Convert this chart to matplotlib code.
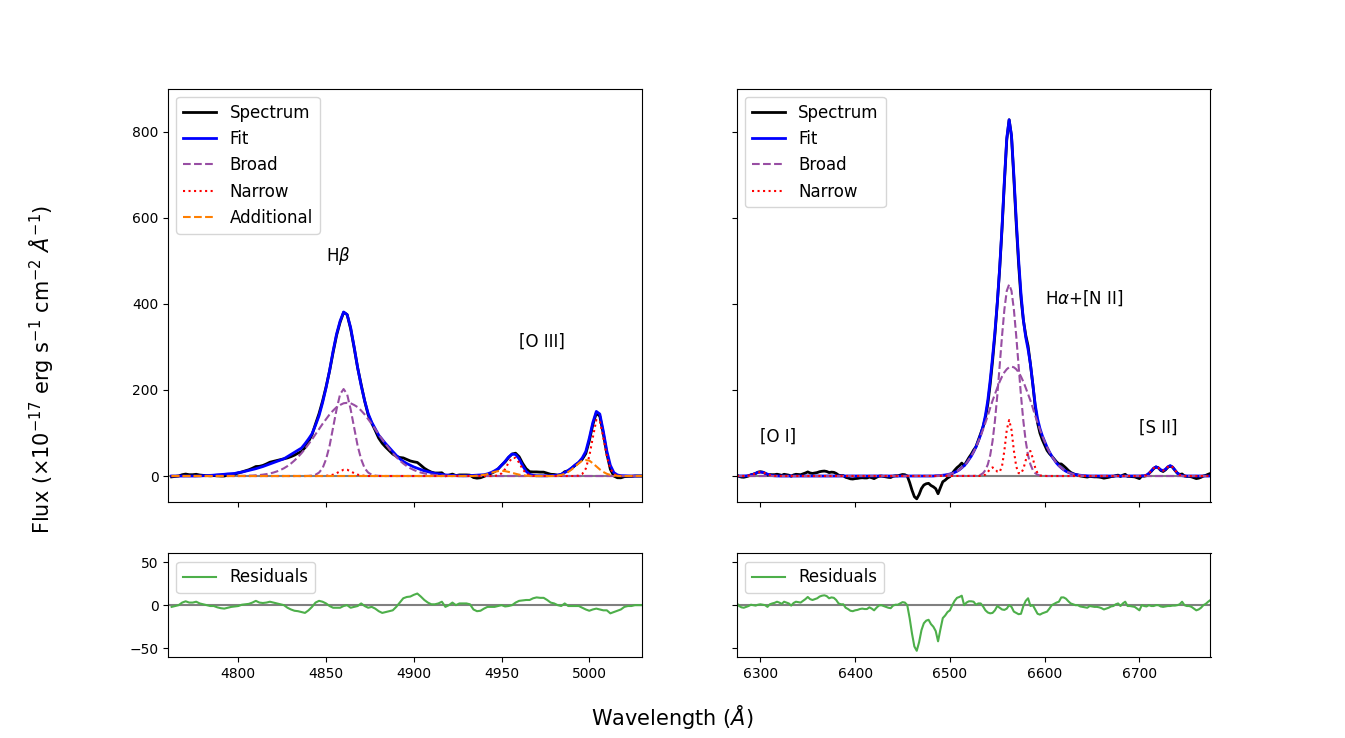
import numpy as np
import matplotlib
matplotlib.use('Agg')
import matplotlib.pyplot as plt

# ---- H-beta + [O III] window (2 A sampling) ----
wave_hb = np.arange(4762, 5031, 2)

fit_hb = [
    0, 0, 0, 0, 0, 0, 0, 0, 0.3, 0.5,
    1, 1.5, 2, 3, 3.5, 4, 5, 5.5, 6, 8,
    9, 11, 13, 15, 17, 19.5, 22, 25, 28, 31,
    34, 37, 40, 45, 50, 55, 60, 65, 75, 86,
    98, 118, 140, 170, 205, 245, 290, 330, 360, 381,
    375, 345, 300, 252, 210, 175, 145, 125, 110, 95,
    85, 75, 66, 57, 48, 40, 34, 29, 25, 21,
    18, 15, 12, 10, 8, 6, 5, 3.5, 2.5, 2,
    1.5, 1, 0.5, 0.5, 0.5, 1, 1.5, 2, 2.5, 3,
    5, 8, 12, 17, 25, 34, 44, 51, 50, 40,
    24, 11, 4, 1.5, 0.5, 0.5, 0.5, 0.5, 1, 1.5,
    2, 4, 8, 13, 19, 26, 32, 42, 57, 88,
    124, 150, 144, 104, 58, 25, 8, 2.5, 0.8, 0.5,
    0, 0, 0, 0, 0,
]

resid_hb = [
    -2, -1, 0, 3, 4.5, 3, 3, 4, 2, 1,
    0, -1, -1, -2.5, -3.5, -4, -3, -2, -1.5, -1,
    0.5, 1, 1.5, 3, 5, 3, 2.5, 3, 4, 3,
    2, 1, 0, -3, -5, -6.5, -7, -8, -9, -6,
    -2, 3, 5, 4, 2, -1, -3, -3, -3, -1,
    0, -3, -2, -1, 2, -1, -3, -2, -4, -7,
    -9, -8, -7, -6, -2, 3, 8, 9.5, 10, 12,
    13.5, 10, 6, 3, 1, 1, 2, 4, -2, 0,
    3, 0, 2, 2, 2, 1, -5, -7, -6.5, -4,
    -2, -2, -2, -1, 0, -1.5, -1, 0, 3, 5,
    5.5, 6, 6, 8, 9, 8.5, 8.5, 6, 3, 2,
    0, -1, 2, -1, -1, -1, -1, -3, -5, -6.5,
    -5, -4, -5, -6, -6, -9.5, -8, -6.5, -5, -2,
    -1, -1, 0, 0, 0,
]

# broad components (start wavelength, values)
hb_broad_wide_start = 4800
hb_broad_wide = [
    0.2, 0.3, 0.5, 0.7, 1, 1.6, 2.3, 3.2, 4.4, 6,
    8, 10.7, 14, 18, 23, 29, 36, 44, 53, 63,
    74, 85, 97, 109, 121, 132, 143, 152, 160, 165,
    169, 170, 169, 165, 160, 152, 143, 132, 121, 109,
    97, 85, 74, 63, 53, 44, 36, 29, 23, 18,
    14, 10.7, 8, 6, 4.4, 3.2, 2.3, 1.6, 1, 0.7,
    0.5, 0.3, 0.2,
]
hb_broad_core_start = 4840
hb_broad_core = [0.3, 1, 3, 8, 18, 39, 70, 112, 155, 190, 202,
                 190, 155, 112, 70, 39, 18, 8, 3, 1, 0.3]

# narrow lines
hb_narrow_start = 4850
hb_narrow = [0.5, 1.2, 3.2, 6.5, 11, 14.5, 14.5, 11, 6.5, 3.2, 1.2, 0.5]
o3_4959_start = 4946
o3_4959 = [0.3, 1.7, 6, 16, 31, 42, 42, 31, 16, 6, 1.7, 0.3]
o3_5007_start = 4994
o3_5007 = [1, 4.9, 17, 46, 89, 130, 128, 89, 46, 17, 4.9, 1]

# additional (wing) components
wing_4959_start = 4936
wing_4959 = [0.8, 1.6, 2.7, 4.3, 7.3, 9.6, 11.3, 12, 11.3, 9.6, 7.3,
             5.2, 3.2, 1.8, 0.9, 0.4]
wing_5007_start = 4980
wing_5007 = [0.4, 1.1, 2.5, 5.1, 9.4, 15.3, 22.4, 29.6, 35.8, 37,
             35.8, 29.6, 22.4, 15.3, 9.4, 5.1, 2.5, 1.1, 0.4]

# ---- H-alpha + [N II] window (2.5 A sampling) ----
wave_ha = np.arange(6275, 6775.1, 2.5)

resid_ha = [
    2.5, -1, -2.5, -3, -2, -1, 0.5, 0, -0.5, 0.5,
    1, 0.5, 0, -2, 1, 2, 2.7, 4, 3, 1.5,
    4, 3, 2, -0.5, 2.5, 4, 3.5, 3, 5, 7,
    9.5, 7, 6, 7, 8, 10, 11, 11.5, 10.5, 8,
    9, 8.5, 6, 2, 1, 1, -3, -4.5, -6.5, -7,
    -6, -5.5, -4.5, -4, -4.5, -4.5, -2.5, -4, -6, -3,
    -0.5, 0, -1, -2, -3, -3.5, -0.5, 0.5, 0.5, 2,
    3.5, 3, 0, -15, -33, -48, -53, -43, -29, -21,
    -18, -17, -22, -25, -30, -42, -28, -15, -12, -8,
    -6, 0, 5, 8.5, 9.5, 11, 0, 3, 4.5, 4.5,
    4, 0.5, 2, 2, -1.5, -6, -8.5, -9.5, -9, -6,
    -1, -3, -5, -5.5, -4, 0, -2, -7.5, -9, -10.5,
    -10, -1, 5, 8, -1, 0, -5, -10, -11, -9.5,
    -8.5, -7.5, -4, 0, 1.5, 3, 4, 9, 9, 7.5,
    4.5, 2, 1, 0, 0, -1.5, -2, -2.5, -3, -1,
    -1.5, -2, -2, -2.5, -3.5, -5, -4, -3, -1.5, -1,
    1, 2, -1, 2, 4, -1, -1, -1.5, -2, -4,
    -6, 0, -1, -1.5, 0, -1, -1, 0, 0, -1.5,
    -2, -1.5, -1, -1, -0.5, -0.5, 0, 1, 4, 0,
    -1, -1, -2, -4, -6, -5, -3, 0, 1.5, 4,
    6,
]

ha_broad_wide_start = 6485
ha_broad_wide = [
    0.6, 0.8, 1.2, 1.7, 2.4, 3.4, 4.6, 6.3, 8.4, 11,
    14.5, 19, 24, 30, 38, 46, 56, 67, 80, 93,
    108, 124, 140, 158, 175, 190, 205, 219, 231, 241,
    248, 252.5, 254, 252.5, 248, 241, 231, 219, 205, 190,
    175, 158, 140, 124, 108, 93, 80, 67, 56, 46,
    38, 30, 24, 19, 14.5, 11, 8.4, 6.3, 4.6, 3.4,
    2.4, 1.7, 1.2, 0.8, 0.6,
]
ha_broad_core_start = 6525
ha_broad_core = [0.2, 0.5, 1.3, 3, 6.7, 13.8, 26.8, 48, 81, 128, 187, 255,
                 325, 387, 430, 445, 430, 387, 325, 255, 187, 128, 81, 48,
                 26.8, 13.8, 6.7, 3, 1.3, 0.5, 0.2]

o1_start = 6282.5
o1_narrow = [0.13, 0.4, 1.0, 2.3, 4.1, 6.4, 8.5, 9, 8.5, 6.4, 4.1, 2.3,
             1.0, 0.4, 0.13]
ha_n2_start = 6532.5
ha_n2_narrow = [0.15, 0.9, 3.4, 9.2, 16.5, 20, 16.5, 10.2, 9.1, 22.9, 59.2,
                107, 130, 107, 59, 22, 6.7, 5.8, 16.3, 36.4, 56, 58, 41,
                19.5, 6.2, 1.4, 0.2]
s2_start = 6702.5
s2_narrow = [0.1, 0.6, 2.2, 5.8, 11.9, 18.2, 21.1, 18.9, 14.4, 12.5, 15.8,
             21.4, 24.1, 20.8, 13.6, 6.7, 2.5, 0.7, 0.1]

# text labels: (x, y, text)
labels_hb = [(4850, 500, r'H$\beta$'), (4960, 300, '[O III]')]
labels_ha = [(6600, 400, r'H$\alpha$+[N II]'), (6300, 80, '[O I]'),
             (6700, 100, '[S II]')]


def padded(wave, start, values):
    arr = np.zeros(len(wave))
    i0 = int(np.argmin(np.abs(wave - start)))
    arr[i0:i0 + len(values)] = values
    return arr


# assemble H-beta window
fit_hb = np.array(fit_hb, dtype=float)
spec_hb = fit_hb + np.array(resid_hb)
broad_hb = [padded(wave_hb, hb_broad_wide_start, hb_broad_wide),
            padded(wave_hb, hb_broad_core_start, hb_broad_core)]
narrow_hb = (padded(wave_hb, hb_narrow_start, hb_narrow)
             + padded(wave_hb, o3_4959_start, o3_4959)
             + padded(wave_hb, o3_5007_start, o3_5007))
extra_hb = (padded(wave_hb, wing_4959_start, wing_4959)
            + padded(wave_hb, wing_5007_start, wing_5007))

# assemble H-alpha window
broad_ha = [padded(wave_ha, ha_broad_wide_start, ha_broad_wide),
            padded(wave_ha, ha_broad_core_start, ha_broad_core)]
narrow_ha = (padded(wave_ha, o1_start, o1_narrow)
             + padded(wave_ha, ha_n2_start, ha_n2_narrow)
             + padded(wave_ha, s2_start, s2_narrow))
fit_ha = broad_ha[0] + broad_ha[1] + narrow_ha
spec_ha = fit_ha + np.array(resid_ha)

PURPLE = '#984ea3'
ORANGE = '#ff7f00'
GREEN = '#4daf4a'

fig, axes = plt.subplots(2, 2, figsize=(13.45, 7.38), sharex='col', sharey='row',
                         gridspec_kw={'height_ratios': [4, 1]})

panels = [
    (0, wave_hb, spec_hb, fit_hb, broad_hb, narrow_hb, extra_hb, labels_hb, (4760, 5030)),
    (1, wave_ha, spec_ha, fit_ha, broad_ha, narrow_ha, None, labels_ha, (6275, 6775)),
]

for col, wave, spec, fit, broads, narrow, extra, labels, xlim in panels:
    ax = axes[0, col]
    ax.axhline(0, color='gray', lw=1.5, zorder=0)
    ax.plot(wave, spec, color='black', lw=2, label='Spectrum')
    ax.plot(wave, fit, color='blue', lw=2, label='Fit')
    for k, b in enumerate(broads):
        ax.plot(wave, b, color=PURPLE, ls='--', lw=1.5,
                label='Broad' if k == 0 else None)
    ax.plot(wave, narrow, color='red', ls=':', lw=1.5, label='Narrow')
    if extra is not None:
        ax.plot(wave, extra, color=ORANGE, ls='--', lw=1.5, label='Additional')
    for x, y, t in labels:
        ax.text(x, y, t, fontsize=12)
    ax.legend(loc='upper left', fontsize=12)
    ax.set_xlim(*xlim)
    ax.set_ylim(-60, 900)

    rax = axes[1, col]
    rax.axhline(0, color='gray', lw=1.5, zorder=0)
    rax.plot(wave, spec - fit, color=GREEN, lw=1.5, label='Residuals')
    rax.legend(loc='upper left', fontsize=12)
    rax.set_ylim(-60, 60)

fig.supxlabel(r'Wavelength ($\AA$)', fontsize=15, y=0.01)
fig.supylabel(r'Flux ($\times10^{-17}$ erg s$^{-1}$ cm$^{-2}$ $\AA^{-1}$)',
              fontsize=15, x=0.02)

plt.savefig('out.png', dpi=100)
plt.close()
